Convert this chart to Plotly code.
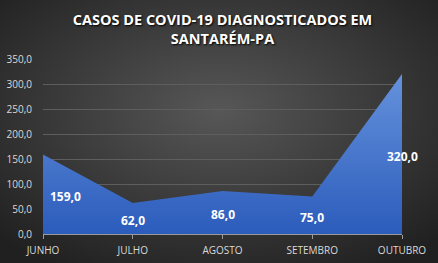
import base64
import plotly.graph_objects as go

months = ["JUNHO", "JULHO", "AGOSTO", "SETEMBRO", "OUTUBRO"]
cases = [159.0, 62.0, 86.0, 75.0, 320.0]
value_labels = ["159,0", "62,0", "86,0", "75,0", "320,0"]
y_ticks = [0, 50, 100, 150, 200, 250, 300, 350]
y_tick_labels = ["0,0", "50,0", "100,0", "150,0", "200,0", "250,0", "300,0", "350,0"]
title_text = "CASOS DE COVID-19 DIAGNOSTICADOS EM<br>SANTARÉM-PA"

W, H = 438, 263
ML, MR, MT, MB = 43, 36, 59, 29
pw, ph = W - ML - MR, H - MT - MB

svg = (
    '<svg xmlns="http://www.w3.org/2000/svg" width="438" height="263" preserveAspectRatio="none">'
    '<defs><radialGradient id="g" cx="50%" cy="42%" r="70%">'
    '<stop offset="0%" stop-color="#575757"/>'
    '<stop offset="100%" stop-color="#202020"/>'
    '</radialGradient></defs>'
    '<rect width="438" height="263" fill="url(#g)"/></svg>'
)
bg_src = "data:image/svg+xml;base64," + base64.b64encode(svg.encode()).decode()

fig = go.Figure()
fig.add_trace(go.Scatter(
    x=list(range(len(months))), y=cases,
    mode="lines", line=dict(width=0, color="#3f6fcf"),
    fill="tozeroy",
    fillgradient=dict(type="vertical",
                      colorscale=[[0, "#2c5cbc"], [1, "#6592dc"]]),
    hoverinfo="skip", showlegend=False,
))

for i, (v, lab) in enumerate(zip(cases, value_labels)):
    fig.add_annotation(
        x=i, y=v / 2, text=lab, showarrow=False,
        xshift=22 if i == 0 else 0, yshift=-2,
        font=dict(family="Open Sans", size=12, color="white", weight="bold"),
    )

fig.add_layout_image(dict(
    source=bg_src, xref="paper", yref="paper",
    x=-ML / pw, y=1 + MT / ph, sizex=W / pw, sizey=H / ph,
    xanchor="left", yanchor="top", sizing="stretch", layer="below",
))

fig.update_layout(
    width=W, height=H,
    margin=dict(l=ML, r=MR, t=MT, b=MB, autoexpand=False),
    paper_bgcolor="#333333", plot_bgcolor="rgba(0,0,0,0)",
    title=dict(
        text=title_text, x=0.5, xref="paper", xanchor="center",
        y=1 - 25 / H, yanchor="middle", automargin=False,
        font=dict(family="Open Sans", size=14.5, color="white", weight="bold",
                  shadow="1px 1px 2px #000000"),
    ),
    xaxis=dict(
        range=[0, len(months) - 1], automargin=False,
        tickvals=list(range(len(months))), ticktext=months,
        showgrid=False, zeroline=False,
        showline=True, linecolor="#9a9a9a", linewidth=1,
        ticks="outside", ticklen=4, tickcolor="#9a9a9a",
        ticklabelstandoff=3,
        tickfont=dict(family="Open Sans", size=10, color="#d9d9d9"),
    ),
    yaxis=dict(
        range=[0, 350], tickvals=y_ticks, ticktext=y_tick_labels,
        automargin=False,
        showgrid=True, gridcolor="#5e5e5e", gridwidth=1,
        zeroline=False, showline=False,
        tickfont=dict(family="Open Sans", size=10, color="#d9d9d9"),
        ticks="", ticklabelstandoff=10,
    ),
    hovermode=False,
)

fig.write_html("out.html")
